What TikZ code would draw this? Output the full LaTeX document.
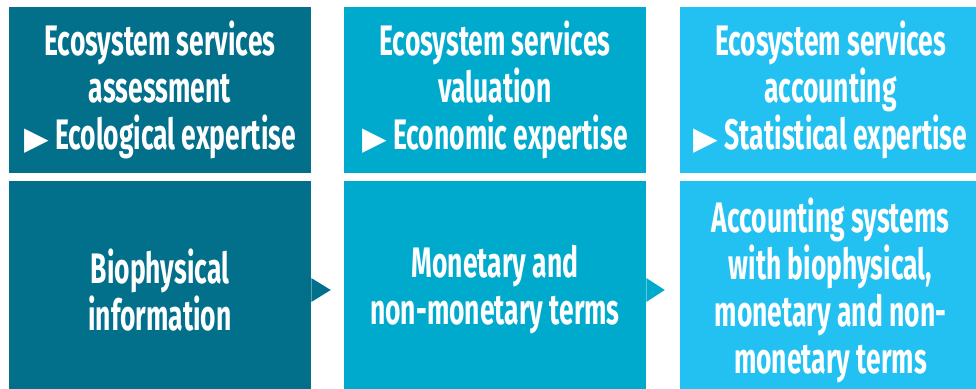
\documentclass[tikz,border=0pt]{standalone}
\usepackage{fontspec}
\setmainfont{Fira Sans}[FakeStretch=0.62]
\newfontfamily\symfont{DejaVu Sans}
\usetikzlibrary{calc}

\definecolor{assessblue}{RGB}{2,112,139}
\definecolor{valueblue}{RGB}{0,170,205}
\definecolor{accountblue}{RGB}{34,193,242}

\tikzset{
  panel/.style={fill=#1, inner sep=0pt, text=white, align=center,
    font=\bfseries\fontsize{32}{35.25}\selectfont},
  headbox/.style={panel=#1, minimum width=226.5pt, minimum height=124.5pt},
  bodybox/.style={panel=#1, minimum width=226.5pt, minimum height=163.5pt},
}
\newcommand{\pointer}{{\symfont\fontsize{24}{24}\selectfont ▶}\ }

\begin{document}
\begin{tikzpicture}[x=0.75pt,y=-0.75pt]
    \useasboundingbox (0,0) rectangle (976,389);
    \clip (0,0) rectangle (976,389);
    % top row
    \node[headbox=assessblue] (assess) at (160,90) {Ecosystem services\\assessment\\\pointer Ecological expertise};
    \node[headbox=valueblue] (valuation) at (495,90) {Ecosystem services\\valuation\\\pointer Economic expertise};
    \node[headbox=accountblue] (accounting) at (830.5,90) {Ecosystem services\\accounting\\\pointer Statistical expertise};
    % bottom row
    \node[bodybox=assessblue] (bio) at (160,290) {Biophysical\\information};
    \node[bodybox=valueblue] (money) at (495,290) {Monetary and\\non-monetary terms};
    \node[bodybox=accountblue] (systems) at (830.5,290) {Accounting systems\\with biophysical,\\monetary and non-\\monetary terms};
    % notches
    \fill[assessblue] ($(bio.east)+(0,-12)$) -- ($(bio.east)+(19.5,0)$) -- ($(bio.east)+(0,12)$) -- cycle;
    \fill[valueblue] ($(money.east)+(0,-12)$) -- ($(money.east)+(18.5,0)$) -- ($(money.east)+(0,12)$) -- cycle;
\end{tikzpicture}
\end{document}
